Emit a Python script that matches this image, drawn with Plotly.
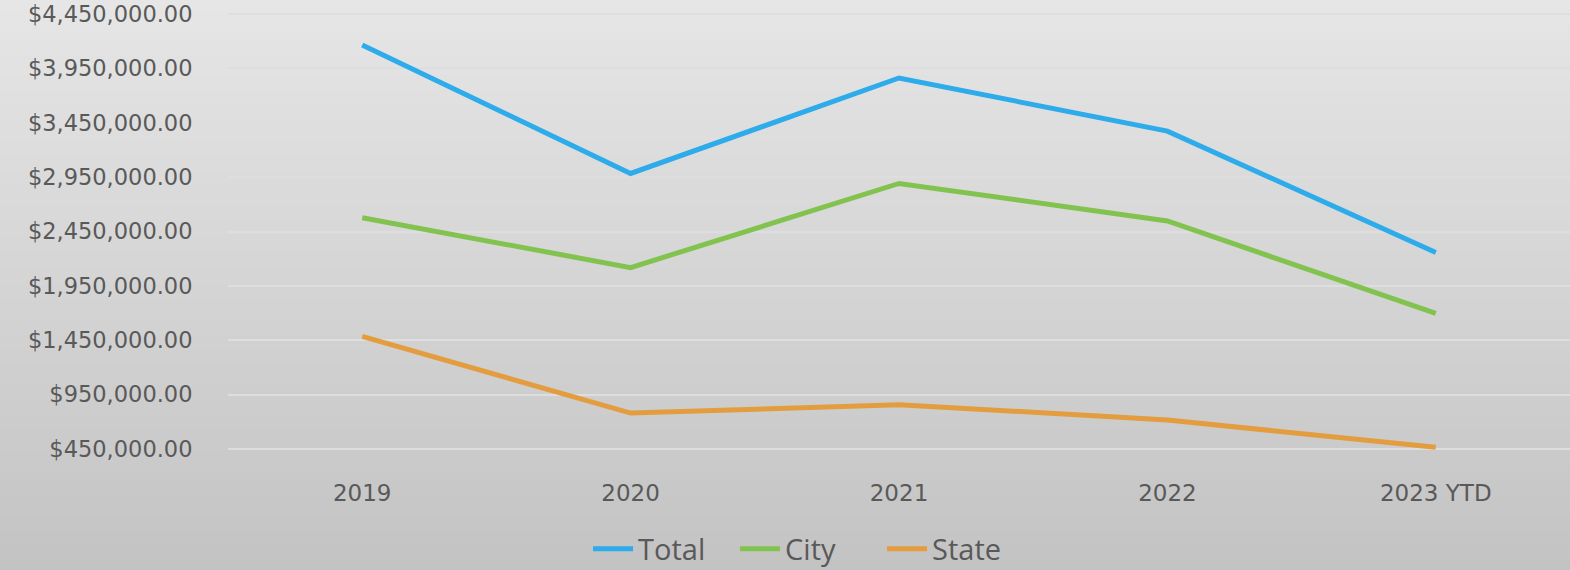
import plotly.graph_objects as go

categories = ["2019", "2020", "2021", "2022", "2023 YTD"]
total = [4165000, 2984000, 3862000, 3373000, 2256000]
city = [2577000, 2118000, 2892000, 2547000, 1696000]
state = [1485000, 780000, 857000, 716000, 465000]
tick_vals = [450000, 950000, 1450000, 1950000, 2450000, 2950000, 3450000, 3950000, 4450000]
tick_text = ["${:,.2f}".format(v) for v in tick_vals]

W, H = 1570, 570
ML, MR, MT, MB = 228, 0, 13, 120
pw, ph = W - ML - MR, H - MT - MB

fig = go.Figure()
series = [("Total", total, "#2DABEA"), ("City", city, "#82C350"), ("State", state, "#E49D3E")]
for name, vals, col in series:
    fig.add_trace(go.Scatter(x=categories, y=vals, name=name, mode="lines",
                             line=dict(color=col, width=5)))

# vertical gradient background
shapes = []
n = 114
top = (230, 230, 230)
bot = (195, 195, 195)
for i in range(n):
    py0 = H * i / n
    py1 = H * (i + 1) / n + 0.6
    t = (i + 0.5) / n
    c = tuple(int(round(top[k] + (bot[k] - top[k]) * t)) for k in range(3))
    shapes.append(dict(type="rect", xref="paper", yref="paper",
                       x0=-ML / pw - 0.01, x1=1.01,
                       y0=1 - (py1 - MT) / ph, y1=1 - (py0 - MT) / ph + (0.02 if i == 0 else 0),
                       fillcolor="rgb(%d,%d,%d)" % c, line=dict(width=0), layer="below"))

fig.update_layout(
    width=W, height=H,
    margin=dict(l=ML, r=MR, t=MT, b=MB, autoexpand=False),
    paper_bgcolor="#E5E5E5",
    plot_bgcolor="rgba(0,0,0,0)",
    shapes=shapes,
    font=dict(family="Open Sans", color="#595959"),
    showlegend=True,
    legend=dict(orientation="h", xref="container", yref="container", x=0.515, y=0.037,
                xanchor="center", yanchor="middle", font=dict(size=29, color="#595959"),
                bgcolor="rgba(0,0,0,0)", itemwidth=40, tracegroupgap=0, entrywidth=92),
    xaxis=dict(type="category", range=[-0.5, 4.5], showgrid=False, zeroline=False,
               showline=False, ticks="outside", ticklen=22, tickcolor="rgba(0,0,0,0)",
               automargin=False,
               tickfont=dict(family="DejaVu Sans", size=23, color="#595959")),
    yaxis=dict(range=[440000, 4460000], tickvals=tick_vals, ticktext=tick_text,
               showgrid=True, gridcolor="#DEDEDE", gridwidth=1.5, zeroline=False,
               showline=False, ticks="outside", ticklen=30, tickcolor="rgba(0,0,0,0)",
               automargin=False,
               tickfont=dict(family="DejaVu Sans", size=22.5, color="#595959"),
               ticklabeloverflow="allow"),
)

fig.write_html("out.html", config={"displayModeBar": False},
               post_script="document.body.style.margin='0';document.body.style.overflow='hidden';")
